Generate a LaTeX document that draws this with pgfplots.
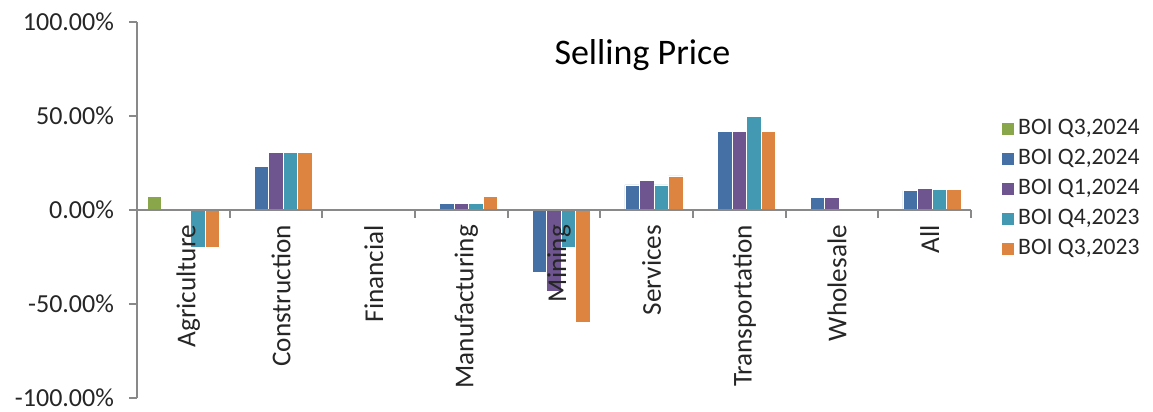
\documentclass[border=0pt]{standalone}
\usepackage{fontspec}
\setmainfont{Carlito}
\usepackage{pgfplots}
\pgfplotsset{compat=1.18}
\definecolor{cgreen}{RGB}{138,166,75}
\definecolor{cblue}{RGB}{69,112,166}
\definecolor{cpurple}{RGB}{111,85,144}
\definecolor{cteal}{RGB}{67,153,177}
\definecolor{corange}{RGB}{221,132,64}
\definecolor{axisgray}{RGB}{137,137,137}
\definecolor{txt}{RGB}{38,38,38}
\begin{document}
\begin{tikzpicture}
\useasboundingbox (-68.5pt,-7pt) rectangle (508pt,199pt);
\begin{axis}[
  at={(0,0)}, anchor=south west,
  scale only axis, width=417pt, height=188pt,
  xmin=-0.5, xmax=8.5, ymin=-100, ymax=100,
  ybar=0pt, bar width=7.25pt,
  axis on top,
  axis x line=middle, axis y line=left,
  axis line style={draw=axisgray, line width=0.9pt, -},
  tick align=outside,
  xtick={0,...,8},
  xticklabels={Agriculture,Construction,Financial,Manufacturing,Mining,Services,Transportation,Wholesale,All},
  major x tick style={draw=none},
  extra x ticks={0.5,1.5,...,8.5},
  extra x tick labels={},
  extra x tick style={major x tick style={draw=axisgray, line width=0.9pt}, tick style={draw=axisgray, line width=0.9pt}},
  major tick length=4pt,
  ytick={-100,-50,0,50,100},
  yticklabels={-100.00\%,-50.00\%,0.00\%,50.00\%,100.00\%},
  y tick style={draw=axisgray, line width=0.9pt},
  yticklabel style={font=\fontsize{13}{15}\selectfont, text=txt, xshift=-4pt},
  xticklabel style={rotate=90, anchor=east, font=\fontsize{13.6}{15}\selectfont, text=txt, yshift=-2.5pt},
  legend style={at={(1.035,0.752)}, anchor=north west, draw=none, fill=none,
    font=\fontsize{11.8}{13}\selectfont, text=txt, row sep=1.8pt, inner sep=0pt,
    legend cell align=left},
  legend image code/.code={\fill[#1] (0pt,-3.25pt) rectangle (6.5pt,3.25pt);},
  every axis plot/.append style={draw=white, line width=0.3pt},
  clip=false,
]
\addplot[fill=cgreen] coordinates {(0,7.14)};
\addplot[fill=cblue] coordinates {(1,23.08) (3,3.57) (4,-33.33) (5,13.33) (6,41.67) (7,6.67) (8,10.3)};
\addplot[fill=cpurple] coordinates {(1,30.77) (3,3.57) (4,-43) (5,15.8) (6,41.67) (7,6.67) (8,11.7)};
\addplot[fill=cteal] coordinates {(0,-20) (1,30.77) (3,3.57) (4,-20) (5,13.33) (6,50) (8,11)};
\addplot[fill=corange] coordinates {(0,-20) (1,30.77) (3,7.14) (4,-60) (5,18.1) (6,41.67) (8,11)};
\legend{{BOI Q3,2024},{BOI Q2,2024},{BOI Q1,2024},{BOI Q4,2023},{BOI Q3,2023}}
\node[font=\fontsize{18}{20}\selectfont, text=black] at (rel axis cs:0.606,0.912) {Selling Price};
\end{axis}
\end{tikzpicture}
\end{document}
